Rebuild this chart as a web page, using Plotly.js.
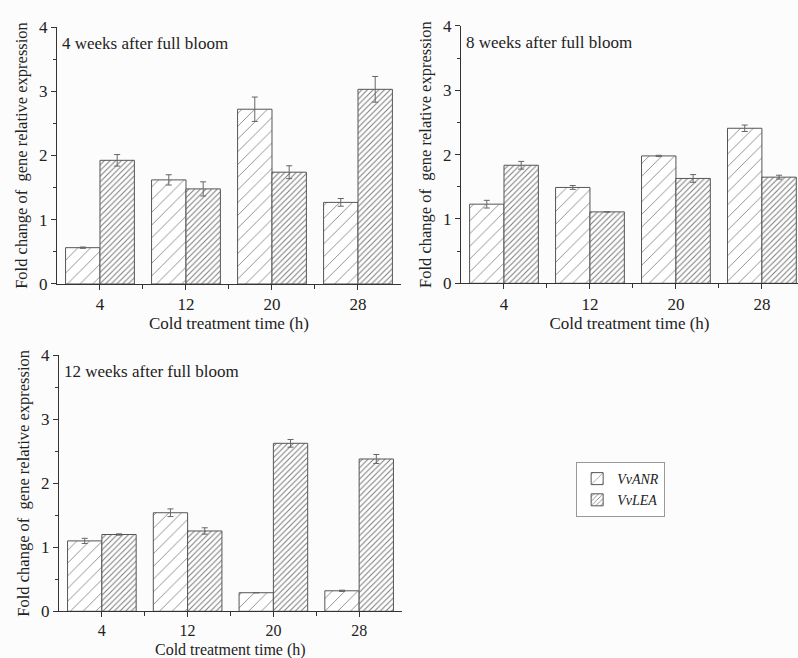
<!DOCTYPE html>
<html>
<head>
<meta charset="utf-8">
<script src="https://cdn.plot.ly/plotly-3.0.1.min.js"></script>
<style>html,body{margin:0;padding:0;background:#fcfcfc;}</style>
</head>
<body>
<div id="chart" style="width:798px;height:658px;"></div>
<script>
// Categories (cold treatment time, h)
const categories = ["4", "12", "20", "28"];
const xpos = [0, 1, 2, 3];

// 4 weeks after full bloom
const anr4w = [0.565, 1.62, 2.72, 1.27];
const anr4wErr = [0.01, 0.08, 0.19, 0.06];
const lea4w = [1.925, 1.48, 1.74, 3.03];
const lea4wErr = [0.09, 0.11, 0.10, 0.20];

// 8 weeks after full bloom
const anr8w = [1.23, 1.49, 1.98, 2.41];
const anr8wErr = [0.06, 0.03, 0.01, 0.05];
const lea8w = [1.835, 1.11, 1.63, 1.65];
const lea8wErr = [0.06, 0.0, 0.06, 0.03];

// 12 weeks after full bloom
const anr12w = [1.10, 1.54, 0.29, 0.32];
const anr12wErr = [0.04, 0.06, 0.0, 0.01];
const lea12w = [1.20, 1.255, 2.625, 2.38];
const lea12wErr = [0.01, 0.05, 0.06, 0.07];

const panelLabels = ["4 weeks after full bloom", "8 weeks after full bloom", "12 weeks after full bloom"];
const seriesNames = ["VvANR", "VvLEA"];
const xTitle = "Cold treatment time (h)";
const yTitle = "Fold change of  gene relative expression";

const FONT = "'Liberation Serif', 'Times New Roman', serif";
const lineCol = "#555555";

function barTrace(x, y, err, idx, xa, ya, showLegend) {
  const sparse = idx === 0;
  return {
    type: "bar", x: x, y: y, xaxis: xa, yaxis: ya,
    name: "<i>" + seriesNames[idx] + "</i>",
    legendgroup: seriesNames[idx],
    showlegend: showLegend,
    offsetgroup: String(idx),
    marker: {
      color: "#ffffff",
      line: {color: lineCol, width: 1},
      pattern: {shape: "/", fgcolor: "#7a7a7a", bgcolor: "#ffffff",
                size: sparse ? 9 : 4, solidity: sparse ? 0.09 : 0.25}
    },
    error_y: {type: "data", array: err, visible: true, color: "#666666", thickness: 1, width: 3}
  };
}

const data = [
  barTrace(xpos, anr4w, anr4wErr, 0, "x", "y", true),
  barTrace(xpos, lea4w, lea4wErr, 1, "x", "y", true),
  barTrace(xpos, anr8w, anr8wErr, 0, "x2", "y2", false),
  barTrace(xpos, lea8w, lea8wErr, 1, "x2", "y2", false),
  barTrace(xpos, anr12w, anr12wErr, 0, "x3", "y3", false),
  barTrace(xpos, lea12w, lea12wErr, 1, "x3", "y3", false)
];

function xAxis(domain, rmax, anchor, withTitle, fs) {
  const ax = {
    domain: domain, range: [-0.5, rmax], anchor: anchor,
    tickvals: xpos, ticktext: categories,
    ticks: "outside", ticklen: 5, tickcolor: "#333",
    minor: {tickvals: [0.5, 1.5, 2.5], ticks: "outside", ticklen: 4, tickcolor: "#333"},
    showline: true, linecolor: "#333", linewidth: 1,
    showgrid: false, zeroline: false,
    tickfont: {family: FONT, size: fs, color: "#222"}
  };
  if (withTitle) ax.title = {text: xTitle, font: {family: FONT, size: 17, color: "#222"}, standoff: 3};
  return ax;
}
function yAxis(domain, anchor) {
  return {
    domain: domain, range: [0, 4], anchor: anchor,
    tickvals: [0, 1, 2, 3, 4],
    ticks: "outside", ticklen: 5, tickcolor: "#333",
    minor: {tickvals: [0.5, 1.5, 2.5, 3.5], ticks: "outside", ticklen: 3, tickcolor: "#333"},
    showline: true, linecolor: "#333", linewidth: 1,
    showgrid: false, zeroline: false,
    tickfont: {family: FONT, size: 17, color: "#222"},
    title: {text: yTitle, font: {family: FONT, size: 16.5, color: "#222"}, standoff: 7}
  };
}

const layout = {
  width: 798, height: 658,
  margin: {l: 0, r: 0, t: 0, b: 30},
  paper_bgcolor: "#fcfcfc", plot_bgcolor: "#fcfcfc",
  bargap: 0.2, bargroupgap: 0,
  barmode: "group",
  font: {family: FONT, color: "#222"},
  xaxis: xAxis([0.0714, 0.5025], 3.5, "y", true, 17),
  yaxis: yAxis([0.5478, 0.957], "x"),
  xaxis2: xAxis([0.5777, 1.0], 3.42, "y2", true, 17),
  yaxis2: yAxis([0.5489, 0.9586], "x2"),
  xaxis3: xAxis([0.0739, 0.5038], 3.5, "y3", false, 16),
  yaxis3: yAxis([0.0266, 0.4342], "x3"),
  annotations: [
    {xref: "x domain", yref: "y domain", x: 0.01, y: 0.935, xanchor: "left", yanchor: "middle", showarrow: false,
     text: panelLabels[0], font: {family: FONT, size: 17, color: "#222"}},
    {xref: "x2 domain", yref: "y2 domain", x: 0.01, y: 0.935, xanchor: "left", yanchor: "middle", showarrow: false,
     text: panelLabels[1], font: {family: FONT, size: 17, color: "#222"}},
    {xref: "x3 domain", yref: "y3 domain", x: 0.01, y: 0.935, xanchor: "left", yanchor: "middle", showarrow: false,
     text: panelLabels[2], font: {family: FONT, size: 17, color: "#222"}},
    {xref: "x3 domain", yref: "paper", x: 0.5, y: -0.035, xanchor: "center", yanchor: "middle", showarrow: false,
     text: xTitle, font: {family: FONT, size: 16, color: "#222"}}
  ],
  legend: {
    x: 0.722, y: 0.2643, xanchor: "left", yanchor: "top",
    bgcolor: "#ffffff", bordercolor: "#999", borderwidth: 1,
    font: {family: FONT, size: 14, color: "#222"},
    tracegroupgap: 0, itemwidth: 30
  },
  showlegend: true
};

Plotly.newPlot("chart", data, layout, {displayModeBar: false, staticPlot: true});
</script>
</body>
</html>
